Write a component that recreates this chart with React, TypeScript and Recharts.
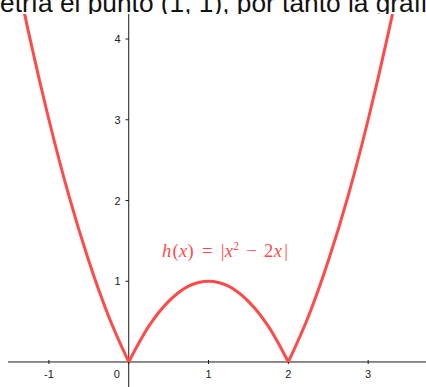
import React from 'react';
import {
  ComposedChart,
  Line,
  XAxis,
  YAxis,
  ReferenceLine,
  ReferenceDot,
} from 'recharts';

const xValues = [-1.5, -1.25, -1, -0.75, -0.5, -0.25, 0, 0.25, 0.5, 0.75, 1, 1.25, 1.5, 1.75, 2, 2.25, 2.5, 2.75, 3, 3.25, 3.5, 3.75];
const hValues = [5.25, 4.06, 3, 2.06, 1.25, 0.56, 0, 0.44, 0.75, 0.94, 1, 0.94, 0.75, 0.44, 0, 0.56, 1.25, 2.06, 3, 4.06, 5.25, 6.56];

// the two corners where the curve touches the axis
const cusps = [0, 2];

const xTicks = [-1, 0, 1, 2, 3];
const yTicks = [1, 2, 3, 4];

const X_DOMAIN: [number, number] = [-1.613, 3.725];
const Y_DOMAIN: [number, number] = [-0.31, 4.31];
const X_AXIS_START = -1.513;

// where the formula label sits, in graph units
const FORMULA_AT = { x: 0.417, y: 1.3 };

const CURVE = '#ff4a4a';
const AXIS = '#1a1a1a';

// split into three pieces so the smoothing keeps the sharp corners
const data = xValues.map((x, i) => {
  const h = hValues[i];
  return {
    x,
    left: x <= cusps[0] ? h : null,
    mid: x >= cusps[0] && x <= cusps[1] ? h : null,
    right: x >= cusps[1] ? h : null,
  };
});

const XTickLabel = (props: any) => {
  const { viewBox, value } = props;
  const dx = value === 0 ? -12 : 0;
  return (
    <text
      x={viewBox.x + dx}
      y={viewBox.y + 16}
      textAnchor="middle"
      fontFamily="Liberation Sans, Arial, sans-serif"
      fontSize={11}
      fill="#222"
    >
      {value}
    </text>
  );
};

const YTickLabel = (props: any) => {
  const { viewBox, value } = props;
  return (
    <text
      x={viewBox.x - 8}
      y={viewBox.y + 4}
      textAnchor="end"
      fontFamily="Liberation Sans, Arial, sans-serif"
      fontSize={11}
      fill="#222"
    >
      {value}
    </text>
  );
};

const FormulaLabel = (props: any) => {
  const { viewBox } = props;
  return (
    <text
      x={viewBox.x}
      y={viewBox.y}
      fontFamily="Liberation Serif, Times New Roman, serif"
      fontSize={18.5}
      letterSpacing={0.3}
      fill={CURVE}
    >
      <tspan fontStyle="italic">h</tspan>
      <tspan dx={1}>(</tspan>
      <tspan fontStyle="italic">x</tspan>
      <tspan>)</tspan>
      <tspan dx={8}>=</tspan>
      <tspan dx={8}>|</tspan>
      <tspan fontStyle="italic">x</tspan>
      <tspan fontSize={11.5} dy={-7}>2</tspan>
      <tspan dy={7} dx={7}>−</tspan>
      <tspan dx={7}>2</tspan>
      <tspan fontStyle="italic">x</tspan>
      <tspan dx={2}>|</tspan>
    </text>
  );
};

export default function App() {
  return (
    <div
      style={{
        position: 'absolute',
        left: 0,
        top: 0,
        width: 426,
        height: 387,
        overflow: 'hidden',
        background: '#fff',
      }}
    >
      <div
        style={{
          position: 'absolute',
          left: 0,
          top: 0,
          width: 426,
          height: 14,
          overflow: 'hidden',
          zIndex: 2,
        }}
      >
        <div
          style={{
            position: 'absolute',
            left: 0,
            top: -10,
            whiteSpace: 'nowrap',
            fontFamily: 'Liberation Sans, Arial, sans-serif',
            fontSize: 26.3,
            lineHeight: '26.3px',
            color: '#111',
          }}
        >
          etría el punto (1, 1), por tanto la gráfica
        </div>
      </div>

      <ComposedChart
        width={426}
        height={387}
        data={data}
        margin={{ top: 14, right: 0, bottom: 0, left: 0 }}
      >
        <XAxis type="number" dataKey="x" domain={X_DOMAIN} allowDataOverflow hide />
        <YAxis type="number" domain={Y_DOMAIN} allowDataOverflow hide />

        {/* axes through the origin */}
        <ReferenceLine
          segment={[{ x: X_AXIS_START, y: 0 }, { x: X_DOMAIN[1], y: 0 }]}
          stroke={AXIS}
          strokeWidth={1}
        />
        <ReferenceLine
          segment={[{ x: 0, y: Y_DOMAIN[0] }, { x: 0, y: Y_DOMAIN[1] }]}
          stroke={AXIS}
          strokeWidth={1}
        />

        {xTicks.map((t) => (
          <ReferenceLine
            key={'xt' + t}
            segment={[{ x: t, y: 0.025 }, { x: t, y: -0.025 }]}
            stroke={AXIS}
          />
        ))}
        {yTicks.map((t) => (
          <ReferenceLine
            key={'yt' + t}
            segment={[{ x: 0, y: t }, { x: -0.04, y: t }]}
            stroke={AXIS}
          />
        ))}
        {xTicks.map((t) => (
          <ReferenceDot
            key={'xl' + t}
            x={t}
            y={0}
            r={0}
            fill="none"
            stroke="none"
            label={<XTickLabel value={t} />}
          />
        ))}
        {yTicks.map((t) => (
          <ReferenceDot
            key={'yl' + t}
            x={0}
            y={t}
            r={0}
            fill="none"
            stroke="none"
            label={<YTickLabel value={t} />}
          />
        ))}

        <Line type="monotone" dataKey="left" stroke={CURVE} strokeWidth={3} dot={false} connectNulls={false} isAnimationActive={false} />
        <Line type="monotone" dataKey="mid" stroke={CURVE} strokeWidth={3} dot={false} connectNulls={false} isAnimationActive={false} />
        <Line type="monotone" dataKey="right" stroke={CURVE} strokeWidth={3} dot={false} connectNulls={false} isAnimationActive={false} />

        <ReferenceDot
          x={FORMULA_AT.x}
          y={FORMULA_AT.y}
          r={0}
          fill="none"
          stroke="none"
          label={<FormulaLabel />}
        />
      </ComposedChart>
    </div>
  );
}
